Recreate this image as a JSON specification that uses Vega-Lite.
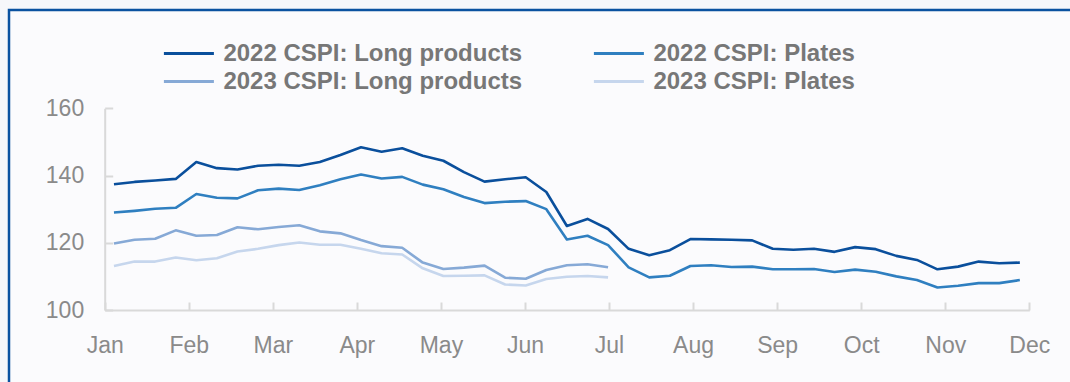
{
  "$schema": "https://vega.github.io/schema/vega-lite/v6.json",
  "autosize": {"type": "none"},
  "padding": {"left": 9, "top": 10, "right": -3, "bottom": -3},
  "width": 1064,
  "height": 375,
  "background": "#f6f7fa",
  "config": {
    "view": {"stroke": "#0a52a0", "strokeWidth": 2.5, "fill": "#fbfbfd"},
    "axis": {
      "domainColor": "#d9d9d9", "domainWidth": 2,
      "tickColor": "#d9d9d9", "tickWidth": 2, "tickSize": -8,
      "grid": false,
      "labelFont": "Liberation Sans", "labelFontSize": 23, "labelColor": "#8a8a8a",
      "labelFlush": false, "labelOverlap": false, "labelBound": false,
      "title": null
    }
  },
  "data": {"values": [
    {"w":0,"s":"2022 CSPI: Long products","v":137.4},{"w":1,"s":"2022 CSPI: Long products","v":138.1},{"w":2,"s":"2022 CSPI: Long products","v":138.5},{"w":3,"s":"2022 CSPI: Long products","v":139.0},{"w":4,"s":"2022 CSPI: Long products","v":144.0},{"w":5,"s":"2022 CSPI: Long products","v":142.2},{"w":6,"s":"2022 CSPI: Long products","v":141.8},{"w":7,"s":"2022 CSPI: Long products","v":142.9},{"w":8,"s":"2022 CSPI: Long products","v":143.2},{"w":9,"s":"2022 CSPI: Long products","v":142.9},{"w":10,"s":"2022 CSPI: Long products","v":144.0},{"w":11,"s":"2022 CSPI: Long products","v":146.1},{"w":12,"s":"2022 CSPI: Long products","v":148.4},{"w":13,"s":"2022 CSPI: Long products","v":147.1},{"w":14,"s":"2022 CSPI: Long products","v":148.1},{"w":15,"s":"2022 CSPI: Long products","v":145.9},{"w":16,"s":"2022 CSPI: Long products","v":144.4},{"w":17,"s":"2022 CSPI: Long products","v":141.0},{"w":18,"s":"2022 CSPI: Long products","v":138.2},{"w":19,"s":"2022 CSPI: Long products","v":138.9},{"w":20,"s":"2022 CSPI: Long products","v":139.5},{"w":21,"s":"2022 CSPI: Long products","v":135.1},{"w":22,"s":"2022 CSPI: Long products","v":125.0},{"w":23,"s":"2022 CSPI: Long products","v":127.1},{"w":24,"s":"2022 CSPI: Long products","v":124.1},{"w":25,"s":"2022 CSPI: Long products","v":118.2},{"w":26,"s":"2022 CSPI: Long products","v":116.3},{"w":27,"s":"2022 CSPI: Long products","v":117.8},{"w":28,"s":"2022 CSPI: Long products","v":121.1},{"w":29,"s":"2022 CSPI: Long products","v":121.0},{"w":30,"s":"2022 CSPI: Long products","v":120.9},{"w":31,"s":"2022 CSPI: Long products","v":120.7},{"w":32,"s":"2022 CSPI: Long products","v":118.2},{"w":33,"s":"2022 CSPI: Long products","v":117.9},{"w":34,"s":"2022 CSPI: Long products","v":118.2},{"w":35,"s":"2022 CSPI: Long products","v":117.3},{"w":36,"s":"2022 CSPI: Long products","v":118.7},{"w":37,"s":"2022 CSPI: Long products","v":118.1},{"w":38,"s":"2022 CSPI: Long products","v":116.1},{"w":39,"s":"2022 CSPI: Long products","v":114.9},{"w":40,"s":"2022 CSPI: Long products","v":112.1},{"w":41,"s":"2022 CSPI: Long products","v":112.9},{"w":42,"s":"2022 CSPI: Long products","v":114.4},{"w":43,"s":"2022 CSPI: Long products","v":113.9},{"w":44,"s":"2022 CSPI: Long products","v":114.1},
    {"w":0,"s":"2022 CSPI: Plates","v":129.0},{"w":1,"s":"2022 CSPI: Plates","v":129.5},{"w":2,"s":"2022 CSPI: Plates","v":130.1},{"w":3,"s":"2022 CSPI: Plates","v":130.4},{"w":4,"s":"2022 CSPI: Plates","v":134.5},{"w":5,"s":"2022 CSPI: Plates","v":133.4},{"w":6,"s":"2022 CSPI: Plates","v":133.2},{"w":7,"s":"2022 CSPI: Plates","v":135.6},{"w":8,"s":"2022 CSPI: Plates","v":136.1},{"w":9,"s":"2022 CSPI: Plates","v":135.7},{"w":10,"s":"2022 CSPI: Plates","v":137.1},{"w":11,"s":"2022 CSPI: Plates","v":138.9},{"w":12,"s":"2022 CSPI: Plates","v":140.3},{"w":13,"s":"2022 CSPI: Plates","v":139.1},{"w":14,"s":"2022 CSPI: Plates","v":139.6},{"w":15,"s":"2022 CSPI: Plates","v":137.3},{"w":16,"s":"2022 CSPI: Plates","v":135.9},{"w":17,"s":"2022 CSPI: Plates","v":133.6},{"w":18,"s":"2022 CSPI: Plates","v":131.8},{"w":19,"s":"2022 CSPI: Plates","v":132.2},{"w":20,"s":"2022 CSPI: Plates","v":132.4},{"w":21,"s":"2022 CSPI: Plates","v":130.0},{"w":22,"s":"2022 CSPI: Plates","v":121.0},{"w":23,"s":"2022 CSPI: Plates","v":122.1},{"w":24,"s":"2022 CSPI: Plates","v":119.3},{"w":25,"s":"2022 CSPI: Plates","v":112.7},{"w":26,"s":"2022 CSPI: Plates","v":109.7},{"w":27,"s":"2022 CSPI: Plates","v":110.2},{"w":28,"s":"2022 CSPI: Plates","v":113.1},{"w":29,"s":"2022 CSPI: Plates","v":113.3},{"w":30,"s":"2022 CSPI: Plates","v":112.8},{"w":31,"s":"2022 CSPI: Plates","v":112.9},{"w":32,"s":"2022 CSPI: Plates","v":112.1},{"w":33,"s":"2022 CSPI: Plates","v":112.1},{"w":34,"s":"2022 CSPI: Plates","v":112.2},{"w":35,"s":"2022 CSPI: Plates","v":111.3},{"w":36,"s":"2022 CSPI: Plates","v":112.0},{"w":37,"s":"2022 CSPI: Plates","v":111.4},{"w":38,"s":"2022 CSPI: Plates","v":110.0},{"w":39,"s":"2022 CSPI: Plates","v":108.9},{"w":40,"s":"2022 CSPI: Plates","v":106.7},{"w":41,"s":"2022 CSPI: Plates","v":107.2},{"w":42,"s":"2022 CSPI: Plates","v":108.0},{"w":43,"s":"2022 CSPI: Plates","v":108.0},{"w":44,"s":"2022 CSPI: Plates","v":108.9},
    {"w":0,"s":"2023 CSPI: Long products","v":119.8},{"w":1,"s":"2023 CSPI: Long products","v":120.9},{"w":2,"s":"2023 CSPI: Long products","v":121.2},{"w":3,"s":"2023 CSPI: Long products","v":123.7},{"w":4,"s":"2023 CSPI: Long products","v":122.1},{"w":5,"s":"2023 CSPI: Long products","v":122.3},{"w":6,"s":"2023 CSPI: Long products","v":124.6},{"w":7,"s":"2023 CSPI: Long products","v":124.0},{"w":8,"s":"2023 CSPI: Long products","v":124.7},{"w":9,"s":"2023 CSPI: Long products","v":125.2},{"w":10,"s":"2023 CSPI: Long products","v":123.4},{"w":11,"s":"2023 CSPI: Long products","v":122.8},{"w":12,"s":"2023 CSPI: Long products","v":120.8},{"w":13,"s":"2023 CSPI: Long products","v":119.0},{"w":14,"s":"2023 CSPI: Long products","v":118.5},{"w":15,"s":"2023 CSPI: Long products","v":114.1},{"w":16,"s":"2023 CSPI: Long products","v":112.2},{"w":17,"s":"2023 CSPI: Long products","v":112.6},{"w":18,"s":"2023 CSPI: Long products","v":113.2},{"w":19,"s":"2023 CSPI: Long products","v":109.6},{"w":20,"s":"2023 CSPI: Long products","v":109.3},{"w":21,"s":"2023 CSPI: Long products","v":111.9},{"w":22,"s":"2023 CSPI: Long products","v":113.3},{"w":23,"s":"2023 CSPI: Long products","v":113.6},{"w":24,"s":"2023 CSPI: Long products","v":112.7},
    {"w":0,"s":"2023 CSPI: Plates","v":113.1},{"w":1,"s":"2023 CSPI: Plates","v":114.4},{"w":2,"s":"2023 CSPI: Plates","v":114.4},{"w":3,"s":"2023 CSPI: Plates","v":115.6},{"w":4,"s":"2023 CSPI: Plates","v":114.8},{"w":5,"s":"2023 CSPI: Plates","v":115.4},{"w":6,"s":"2023 CSPI: Plates","v":117.4},{"w":7,"s":"2023 CSPI: Plates","v":118.2},{"w":8,"s":"2023 CSPI: Plates","v":119.3},{"w":9,"s":"2023 CSPI: Plates","v":120.1},{"w":10,"s":"2023 CSPI: Plates","v":119.4},{"w":11,"s":"2023 CSPI: Plates","v":119.4},{"w":12,"s":"2023 CSPI: Plates","v":118.2},{"w":13,"s":"2023 CSPI: Plates","v":116.9},{"w":14,"s":"2023 CSPI: Plates","v":116.5},{"w":15,"s":"2023 CSPI: Plates","v":112.4},{"w":16,"s":"2023 CSPI: Plates","v":110.1},{"w":17,"s":"2023 CSPI: Plates","v":110.2},{"w":18,"s":"2023 CSPI: Plates","v":110.3},{"w":19,"s":"2023 CSPI: Plates","v":107.6},{"w":20,"s":"2023 CSPI: Plates","v":107.3},{"w":21,"s":"2023 CSPI: Plates","v":109.2},{"w":22,"s":"2023 CSPI: Plates","v":109.9},{"w":23,"s":"2023 CSPI: Plates","v":110.1},{"w":24,"s":"2023 CSPI: Plates","v":109.7}
  ]},
  "mark": {"type": "line", "strokeWidth": 2.6, "strokeJoin": "round"},
  "encoding": {
    "x": {
      "field": "w", "type": "quantitative",
      "scale": {"domain": [-0.45, 44.46], "range": [95.7, 1020.3], "nice": false, "zero": false},
      "axis": {
        "orient": "bottom", "offset": -75,
        "values": [-0.45, 3.633, 7.715, 11.798, 15.88, 19.963, 24.046, 28.128, 32.211, 36.293, 40.376, 44.459],
        "labelExpr": "['Jan','Feb','Mar','Apr','May','Jun','Jul','Aug','Sep','Oct','Nov','Dec'][round((datum.value + 0.45) / 4.0826)]",
        "labelPadding": 32.5, "labelAlign": "center", "labelBaseline": "top"
      }
    },
    "y": {
      "field": "v", "type": "quantitative",
      "scale": {"domain": [100, 160], "range": [300, 98.3], "nice": false, "zero": false},
      "axis": {"orient": "left", "offset": -95.7, "values": [100, 120, 140, 160], "labelPadding": 29}
    },
    "color": {
      "field": "s", "type": "nominal",
      "scale": {
        "domain": ["2022 CSPI: Long products", "2023 CSPI: Long products", "2022 CSPI: Plates", "2023 CSPI: Plates"],
        "range": ["#0a4f9c", "#86a9d6", "#2f7fc0", "#c6d6ed"]
      },
      "legend": {
        "orient": "none", "legendX": 153.4, "legendY": 29.5,
        "title": null, "columns": 2, "columnPadding": 70, "rowPadding": 0,
        "clipHeight": 28, "padding": 0,
        "symbolType": "stroke", "symbolSize": 2500, "symbolStrokeWidth": 3,
        "labelOffset": 8, "labelLimit": 500,
        "labelFont": "Liberation Sans", "labelFontWeight": "bold", "labelFontSize": 24, "labelColor": "#777777"
      }
    }
  }
}
